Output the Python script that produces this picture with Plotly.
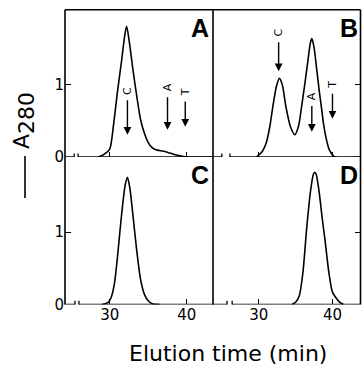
import plotly.graph_objects as go

# ---------------- data ----------------
time_A = [28.5, 29.3, 30.0, 30.5, 31.0, 31.5, 32.0, 32.2, 32.6, 33.0, 33.5, 34.0,
          34.5, 35.0, 35.5, 36.0, 37.0, 38.0, 39.0, 40.0, 43.4]
abs_A = [0.0, 0.04, 0.11, 0.45, 0.9, 1.3, 1.72, 1.81, 1.55, 1.22, 0.85, 0.52,
         0.33, 0.2, 0.13, 0.1, 0.08, 0.05, 0.02, 0.0, 0.0]

time_B = [29.7, 30.5, 31.0, 31.5, 31.9, 32.4, 32.8, 33.2, 33.7, 34.3, 34.9, 35.4,
          35.8, 36.3, 36.7, 37.0, 37.2, 37.5, 37.8, 38.2, 38.5, 38.8, 39.1, 39.5,
          39.8, 40.3, 43.8]
abs_B = [0.0, 0.08, 0.19, 0.42, 0.69, 0.98, 1.09, 1.0, 0.69, 0.42, 0.31, 0.43,
         0.69, 1.05, 1.36, 1.58, 1.64, 1.52, 1.27, 0.92, 0.69, 0.45, 0.28, 0.12,
         0.06, 0.0, 0.0]

time_C = [29.0, 29.8, 30.2, 30.6, 31.0, 31.5, 32.0, 32.3, 32.6, 33.0, 33.5, 34.0,
          34.5, 35.0, 35.5, 36.5]
abs_C = [0.0, 0.03, 0.1, 0.28, 0.65, 1.2, 1.65, 1.76, 1.62, 1.25, 0.75, 0.35,
         0.14, 0.05, 0.01, 0.0]

time_D = [34.5, 35.0, 35.5, 36.0, 36.5, 37.0, 37.4, 37.6, 37.8, 38.2, 38.6, 39.0,
          39.5, 40.0, 40.5, 41.0, 41.5]
abs_D = [0.0, 0.03, 0.12, 0.45, 1.05, 1.55, 1.8, 1.83, 1.8, 1.55, 1.2, 0.88,
         0.45, 0.17, 0.09, 0.03, 0.0]

standard_names = ["C", "A", "T"]
standards_time_A = [32.3, 37.5, 39.8]
standards_time_B = [32.7, 37.2, 40.0]

panel_letters = ["A", "B", "C", "D"]
x_tick_values = [30, 40]
x_tick_labels = ["30", "40"]
y_tick_values = [0, 1]
y_tick_labels = ["0", "1"]

# ---------------- layout helpers (pixel geometry) ----------------
W, H = 362, 371


def px(x):
    return x / W


def py(y):
    return 1 - y / H


X_LEFT, X_MID, X_RIGHT = 65, 213, 360.5
Y_TOP, Y_MID, Y_BOT = 10, 161, 312

LW = 1.6
FONT = "DejaVu Sans"

fig = go.Figure()

panels = [
    # (xaxis id, yaxis id, x, y, xrange, breaks)
    ("x", "y", time_A, abs_A, [24.2, 43.4], [25.4, 25.9]),
    ("x2", "y2", time_B, abs_B, [23.8, 43.8], [25.0, 26.1]),
    ("x3", "y3", time_C, abs_C, [24.2, 43.4], [25.5, 26.0]),
    ("x4", "y4", time_D, abs_D, [23.8, 43.8], [25.7, 26.4]),
]

for xa, ya, xs, ys, xr, br in panels:
    fig.add_trace(go.Scatter(x=xs, y=ys, xaxis=xa, yaxis=ya, mode="lines",
                             line=dict(color="black", width=LW, shape="spline",
                                       smoothing=0.7),
                             showlegend=False, hoverinfo="skip"))

YR = [0, 2.04]
dom_x_left = [px(X_LEFT), px(X_MID)]
dom_x_right = [px(X_MID), px(X_RIGHT)]
dom_y_top = [py(Y_MID), py(Y_TOP)]
dom_y_bot = [py(Y_BOT), py(Y_MID)]

tickfont = dict(family=FONT, size=15, color="black")


def xaxis(domain, rng, anchor, labels):
    return dict(domain=domain, range=rng, anchor=anchor, showgrid=False,
                zeroline=False, showline=False, tickmode="array",
                tickvals=x_tick_values, ticktext=x_tick_labels,
                ticks="inside", ticklen=5, tickwidth=1.4, tickcolor="black",
                showticklabels=labels, tickfont=tickfont, fixedrange=True)


def yaxis(domain, anchor, side):
    if side == "left":
        return dict(domain=domain, range=YR, anchor=anchor, showgrid=False,
                    zeroline=False, showline=False, tickmode="array",
                    tickvals=y_tick_values, ticktext=y_tick_labels,
                    ticks="inside", ticklen=6, tickwidth=1.4, tickcolor="black",
                    tickfont=tickfont, fixedrange=True)
    return dict(domain=domain, range=YR, anchor=anchor, side="right",
                showgrid=False, zeroline=False, showline=False,
                tickmode="array", tickvals=[y_tick_values[1]],
                ticks="inside", ticklen=6, tickwidth=1.4, tickcolor="black",
                showticklabels=False, fixedrange=True)


fig.update_layout(
    width=W, height=H,
    margin=dict(l=0, r=0, t=0, b=0),
    paper_bgcolor="white", plot_bgcolor="white",
    xaxis=xaxis(dom_x_left, panels[0][4], "y", False),
    yaxis=yaxis(dom_y_top, "x", "left"),
    xaxis2=xaxis(dom_x_right, panels[1][4], "y2", False),
    yaxis2=yaxis(dom_y_top, "x2", "right"),
    xaxis3=xaxis(dom_x_left, panels[2][4], "y3", True),
    yaxis3=yaxis(dom_y_bot, "x3", "left"),
    xaxis4=xaxis(dom_x_right, panels[3][4], "y4", True),
    yaxis4=yaxis(dom_y_bot, "x4", "right"),
)

shapes = []
line = dict(color="black", width=LW)
# frame lines (paper coords)
shapes.append(dict(type="line", xref="paper", yref="paper", x0=px(X_LEFT), x1=px(X_RIGHT),
                   y0=py(Y_TOP), y1=py(Y_TOP), line=line))
for xv in (X_LEFT, X_MID, X_RIGHT):
    shapes.append(dict(type="line", xref="paper", yref="paper", x0=px(xv), x1=px(xv),
                       y0=py(Y_TOP), y1=py(Y_BOT), line=line))

# baselines with axis-break marks (per subplot)
BAR = 0.05
for xa, ya, xs, ys, xr, br in panels:
    shapes.append(dict(type="line", xref=xa, yref=ya, x0=xr[0], x1=br[0], y0=0, y1=0, line=line))
    shapes.append(dict(type="line", xref=xa, yref=ya, x0=br[1], x1=xr[1], y0=0, y1=0, line=line))
    for b in br:
        shapes.append(dict(type="line", xref=xa, yref=ya, x0=b, x1=b, y0=-BAR, y1=BAR,
                           line=dict(color="black", width=1.3)))

# the line-style dash of the y title
shapes.append(dict(type="line", xref="paper", yref="paper", x0=px(25), x1=px(25),
                   y0=py(160), y1=py(203), line=dict(color="black", width=1.6)))
fig.update_layout(shapes=shapes)

annotations = []
# panel letters
letter_pos = [(211, 29), (360, 29), (211, 179), (360, 179)]
for letter, (lx, ly) in zip(panel_letters, letter_pos):
    annotations.append(dict(xref="paper", yref="paper", x=px(lx), y=py(ly),
                            xanchor="right", yanchor="middle", text="<b>%s</b>" % letter,
                            showarrow=False,
                            font=dict(family="Liberation Sans", size=25, color="black")))

# standard arrows: label centre y, arrow head y
arrow_geom_A = [(0.92, 0.31), (0.96, 0.38), (0.90, 0.42)]
arrow_geom_B = [(1.72, 1.19), (0.84, 0.35), (1.01, 0.53)]
for xa, ya, times, geom in (("x", "y", standards_time_A, arrow_geom_A),
                            ("x2", "y2", standards_time_B, arrow_geom_B)):
    for name, t, (ly, hy) in zip(standard_names, times, geom):
        annotations.append(dict(xref=xa, yref=ya, x=t, y=hy, ax=t, ay=ly,
                                axref=xa, ayref=ya, text=name, textangle=-90,
                                showarrow=True, borderpad=5,
                                arrowhead=2, arrowsize=1.1, arrowwidth=1.4,
                                arrowcolor="black",
                                font=dict(family=FONT, size=11, color="black")))

# y title
annotations.append(dict(xref="paper", yref="paper", x=px(24), y=py(124),
                        text="A<sub><span style='font-size:22px'>280</span></sub>",
                        textangle=-90, showarrow=False, xanchor="center",
                        yanchor="middle",
                        font=dict(family=FONT, size=22, color="black")))
# x title
annotations.append(dict(xref="paper", yref="paper", x=px(228), y=py(362),
                        text="Elution time (min)", showarrow=False,
                        xanchor="center", yanchor="middle",
                        font=dict(family=FONT, size=22, color="black")))
fig.update_layout(annotations=annotations)

fig.write_html("out.html", config={"displayModeBar": False},
               post_script="document.body.style.margin='0px';"
                           "document.body.style.overflow='hidden';")
